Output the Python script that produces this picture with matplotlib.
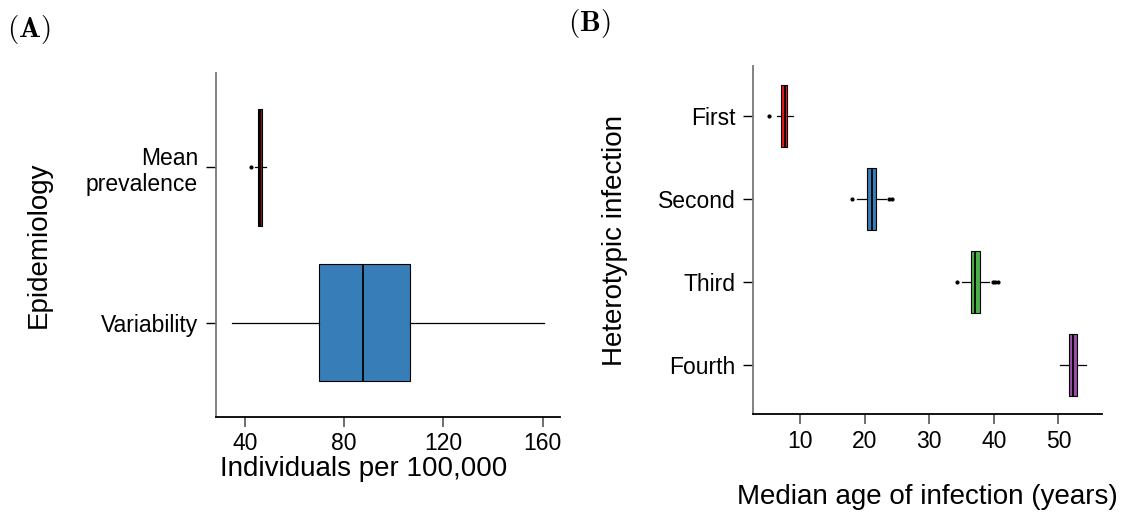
import matplotlib.pyplot as plt

plt.rcParams["font.family"] = ["Liberation Sans", "DejaVu Sans"]
plt.rcParams["mathtext.fontset"] = "cm"

# Panel A: epidemiology summaries (individuals per 100,000)
epi_labels = ["Variability", "Mean\nprevalence"]
epi_q1 = [69.7, 45.2]
epi_med = [87.6, 46.0]
epi_q3 = [106.7, 46.9]
epi_whislo = [34.6, 44.0]
epi_whishi = [160.6, 48.5]
epi_fliers = [[], [42.4]]
epi_colors = ["#377eb8", "#8b1a1a"]

# Panel B: median age of infection by heterotypic infection order
inf_labels = ["Fourth", "Third", "Second", "First"]
inf_q1 = [51.7, 36.4, 20.4, 7.1]
inf_med = [52.3, 37.1, 21.1, 7.6]
inf_q3 = [52.8, 37.8, 21.7, 8.0]
inf_whislo = [50.2, 35.0, 18.8, 6.4]
inf_whishi = [54.2, 39.3, 23.3, 8.9]
inf_fliers = [[], [34.3, 39.8, 40.2, 40.7], [18.0, 23.7, 24.3], [5.2]]
inf_colors = ["#984ea3", "#4daf4a", "#377eb8", "#e41a1c"]


def make_stats(q1, med, q3, lo, hi, fliers):
    return [
        dict(q1=a, med=m, q3=b, whislo=l, whishi=h, fliers=f)
        for a, m, b, l, h, f in zip(q1, med, q3, lo, hi, fliers)
    ]


def draw_panel(ax, stats, colors, labels):
    pos = list(range(len(stats)))
    bp = ax.bxp(
        stats,
        positions=pos,
        widths=0.75,
        orientation="horizontal",
        patch_artist=True,
        showcaps=False,
        boxprops=dict(edgecolor="black", linewidth=0.8),
        medianprops=dict(color="black", linewidth=1.3),
        whiskerprops=dict(color="black", linewidth=0.9),
        flierprops=dict(marker="o", markersize=2.0, markerfacecolor="black",
                        markeredgecolor="black"),
    )
    for patch, c in zip(bp["boxes"], colors):
        patch.set_facecolor(c)
    ax.set_yticks(pos)
    ax.set_yticklabels(labels)
    ax.spines["top"].set_visible(False)
    ax.spines["right"].set_visible(False)
    ax.spines["left"].set_color("#777777")
    ax.spines["left"].set_linewidth(1.3)
    ax.spines["bottom"].set_linewidth(1.3)
    ax.tick_params(axis="x", colors="#555555", labelcolor="black",
                   labelsize=16.5, length=7, width=1.2, pad=4)
    ax.tick_params(axis="y", labelsize=16.5, length=7, width=1.0, pad=6)


fig = plt.figure(figsize=(11.32, 5.15), dpi=100)

# (A)
ax1 = fig.add_axes([0.1908, 0.191, 0.3039, 0.668])
draw_panel(ax1, make_stats(epi_q1, epi_med, epi_q3, epi_whislo, epi_whishi, epi_fliers),
           epi_colors, epi_labels)
ax1.set_xlim(28.3, 167)
ax1.set_ylim(-0.605, 1.609)
ax1.set_xticks([40, 80, 120, 160])
ax1.set_xlabel("Individuals per 100,000", fontsize=20)
ax1.xaxis.set_label_coords(0.43, -0.115)
ax1.set_ylabel("Epidemiology", fontsize=20)
ax1.yaxis.set_label_coords(-0.477, 0.5)

# (B)
ax2 = fig.add_axes([0.6655, 0.1955, 0.3083, 0.6765])
draw_panel(ax2, make_stats(inf_q1, inf_med, inf_q3, inf_whislo, inf_whishi, inf_fliers),
           inf_colors, inf_labels)
ax2.set_xlim(2.77, 56.8)
ax2.set_ylim(-0.59, 3.60)
ax2.set_xticks([10, 20, 30, 40, 50])
ax2.set_xlabel("Median age of infection (years)", fontsize=20)
ax2.xaxis.set_label_coords(0.5, -0.2)
ax2.set_ylabel("Heterotypic infection", fontsize=20)
ax2.yaxis.set_label_coords(-0.36, 0.5)

fig.text(0.006, 0.943, r"$\mathbf{(A)}$", fontsize=21, va="center")
fig.text(0.502, 0.955, r"$\mathbf{(B)}$", fontsize=21, va="center")

fig.savefig("out.png", dpi=100)
